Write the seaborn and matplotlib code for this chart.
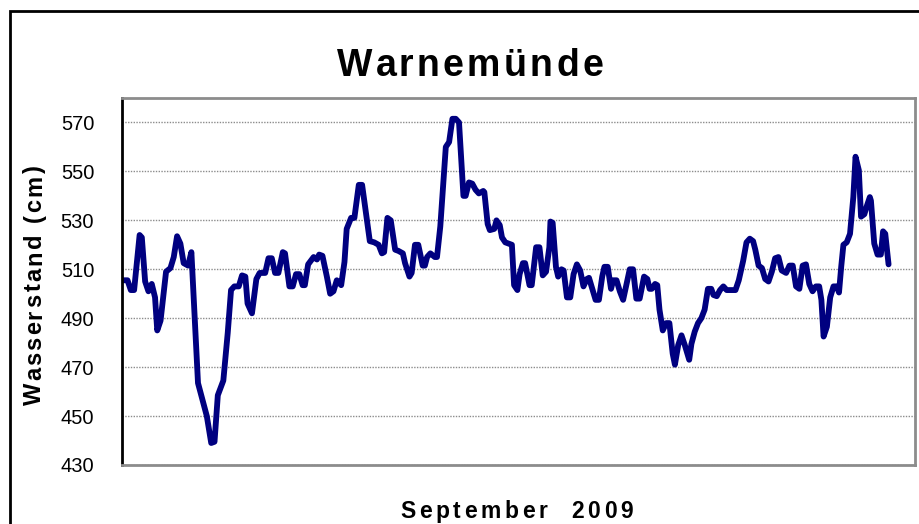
import numpy as np
import pandas as pd
import matplotlib
matplotlib.use("Agg")
import matplotlib.pyplot as plt
import seaborn as sns
from matplotlib.patches import Rectangle

# Wasserstand Warnemünde, September 2009 (hours since 1 Sep 00:00, cm)
hours = [0, 5, 8, 11, 16, 18, 21, 24, 27, 30, 32, 35, 40, 44, 47, 50, 53, 56, 60, 63,
         69, 77, 81, 84, 87, 92, 96, 99, 102, 106, 109, 112, 114, 118, 122, 125, 130, 133, 136, 139,
         142, 146, 148, 152, 155, 158, 161, 164, 166, 169, 174, 177, 179, 182, 186, 189, 192, 195, 199, 202,
         204, 208, 211, 215, 218, 222, 225, 229, 233, 236, 238, 241, 244, 248, 251, 255, 257, 261, 263, 266,
         269, 273, 275, 277, 280, 284, 286, 289, 294, 297, 300, 303, 306, 310, 312, 315, 318, 321, 324, 328,
         329, 332, 334, 338, 340, 343, 345, 348, 351, 354, 356, 359, 361, 364, 366, 370, 372, 376, 379, 382,
         385, 388, 389, 391, 394, 396, 399, 401, 404, 407, 410, 413, 416, 419, 422, 424, 427, 430, 433, 436,
         438, 441, 444, 446, 449, 452, 455, 461, 464, 467, 470, 474, 477, 479, 481, 484, 486, 488, 491, 494,
         497, 500, 502, 505, 508, 511, 515, 517, 520, 523, 526, 529, 532, 535, 537, 540, 543, 546, 549, 553,
         557, 560, 564, 567, 570, 573, 575, 578, 581, 584, 587, 590, 593, 596, 599, 603, 606, 609, 612, 615,
         618, 621, 624, 627, 630, 633, 635, 637, 640, 643, 646, 649, 651, 653, 655, 658, 661, 664, 666, 669,
         671, 674, 676, 679, 680, 683, 686, 689, 691, 693, 696]
level = [505.5, 505.5, 501.5, 501.5, 524, 523, 505, 501, 504, 498.5, 485, 489, 509, 510.5, 515, 523.5, 520.5, 512.5, 511.5, 517,
         463.5, 450, 439, 439.5, 458.5, 464.5, 484, 501.5, 503, 503, 507.5, 507, 496, 492, 506, 508.5, 508.5, 514.5, 514.5, 508.5,
         508.5, 517, 516.5, 503, 503, 508, 508, 503.5, 503.5, 512, 515, 514, 516, 515.5, 507, 500, 501, 505.5, 503.5, 513,
         526.5, 531, 531, 544.5, 544.5, 531.5, 521.5, 521, 520, 516.5, 517, 531, 530, 518, 517.5, 516.5, 512.5, 507, 508.5, 520,
         520, 511.5, 511.5, 515, 516.5, 515, 515, 527.5, 560, 562, 571.5, 571.5, 570, 540, 540, 545.5, 545, 542.5, 541, 542,
         541.5, 528.5, 526, 526.5, 530, 528, 523, 521, 520.5, 520, 503.5, 501.5, 508, 512.5, 512.5, 503.5, 503.5, 519, 519, 507.5,
         509, 519, 529.5, 529, 511, 507, 510, 509.5, 498.5, 498.5, 508, 512, 509.5, 503, 506, 506.5, 502, 497.5, 497.5, 507,
         511, 511, 502, 505.5, 505.5, 501, 497.5, 510, 510, 498, 498, 507, 506, 502, 502, 504, 503.5, 493.5, 485, 488,
         488, 475.5, 471, 479, 483, 479, 473, 479.5, 484.5, 488, 490, 493.5, 502, 502, 499.5, 499, 501.5, 503, 501.5, 501.5,
         501.5, 505.5, 513.5, 521, 522.5, 521.5, 518, 511.5, 510.5, 506, 505, 509, 514.5, 515, 509.5, 508.5, 511.5, 511.5, 503, 502,
         511.5, 512, 504, 501, 503, 503, 497.5, 482.5, 486.5, 498.5, 503, 503, 500.5, 511, 520, 521, 524.5, 539.5, 556, 550.5,
         531.5, 532.5, 535.5, 539.5, 538, 520.5, 516, 516, 525.5, 524.5, 512]

title = "Warnemünde"
x_label = "September  2009"
y_label = "Wasserstand (cm)"

W, H = 920, 524

df = pd.DataFrame({"Stunde": hours, "Wasserstand": level})

sns.set_style("white")
plt.rcParams['font.family'] = ['Liberation Sans', 'DejaVu Sans']
plt.rcParams['text.color'] = 'black'
plt.rcParams['ytick.color'] = 'black'


def spaced_text(fig, x0, base, s, target, vertical=False, **kw):
    # draw s letter by letter so it spans `target` pixels (Excel-like letter spacing)
    r = fig.canvas.get_renderer()

    def width(sub):
        if not sub:
            return 0.0
        t = fig.text(0, 0, sub, **kw)
        w = t.get_window_extent(r).width
        t.remove()
        return w

    gap = (target - width(s)) / (len(s) - 1)
    for i, ch in enumerate(s):
        if ch == " ":
            continue
        off = width(s[:i]) + i * gap
        if vertical:
            fig.text(base / W, 1 - (x0 - off) / H, ch, rotation=90, rotation_mode="anchor",
                     ha="left", va="baseline", **kw)
        else:
            fig.text((x0 + off) / W, 1 - base / H, ch, ha="left", va="baseline", **kw)


fig = plt.figure(figsize=(W / 100, H / 100), dpi=100)
ax = fig.add_axes([122 / W, 1 - 465 / H, (915 - 122) / W, (465 - 98) / H])

sns.lineplot(data=df, x="Stunde", y="Wasserstand", ax=ax, color="#000080", linewidth=4.2)

ax.set_xlim(0, 720)
ax.set_ylim(430, 580)
ax.set_yticks(np.arange(430, 571, 20))
ax.set_xticks([])
ax.set_xlabel("")
ax.set_ylabel("")
ax.tick_params(axis="y", direction="out", length=7, width=1.5, color="black",
               labelsize=14.5, pad=13)
ax.yaxis.grid(True, color="#8c8c8c", linestyle=(0, (1, 1)), linewidth=1)
ax.set_axisbelow(True)

for side in ["top", "right", "bottom"]:
    ax.spines[side].set_color("#8c8c8c")
    ax.spines[side].set_linewidth(2)
ax.spines["left"].set_color("black")
ax.spines["left"].set_linewidth(2)

# labels with letter spacing, positions in pixels
spaced_text(fig, 337, 76, title, 266, fontsize=27, fontweight="bold")
spaced_text(fig, 400, 518, x_label, 233, fontsize=16.5, fontweight="bold")
spaced_text(fig, 405, 41, y_label, 240, vertical=True, fontsize=17, fontweight="bold")

# chart border (cut off on the right and bottom like the screenshot)
fig.patches.append(Rectangle((10 / W, -0.1), 1.0, 1 - 11 / H + 0.1,
                             transform=fig.transFigure, fill=False,
                             edgecolor="black", linewidth=2))

fig.savefig("out.png", dpi=100)
